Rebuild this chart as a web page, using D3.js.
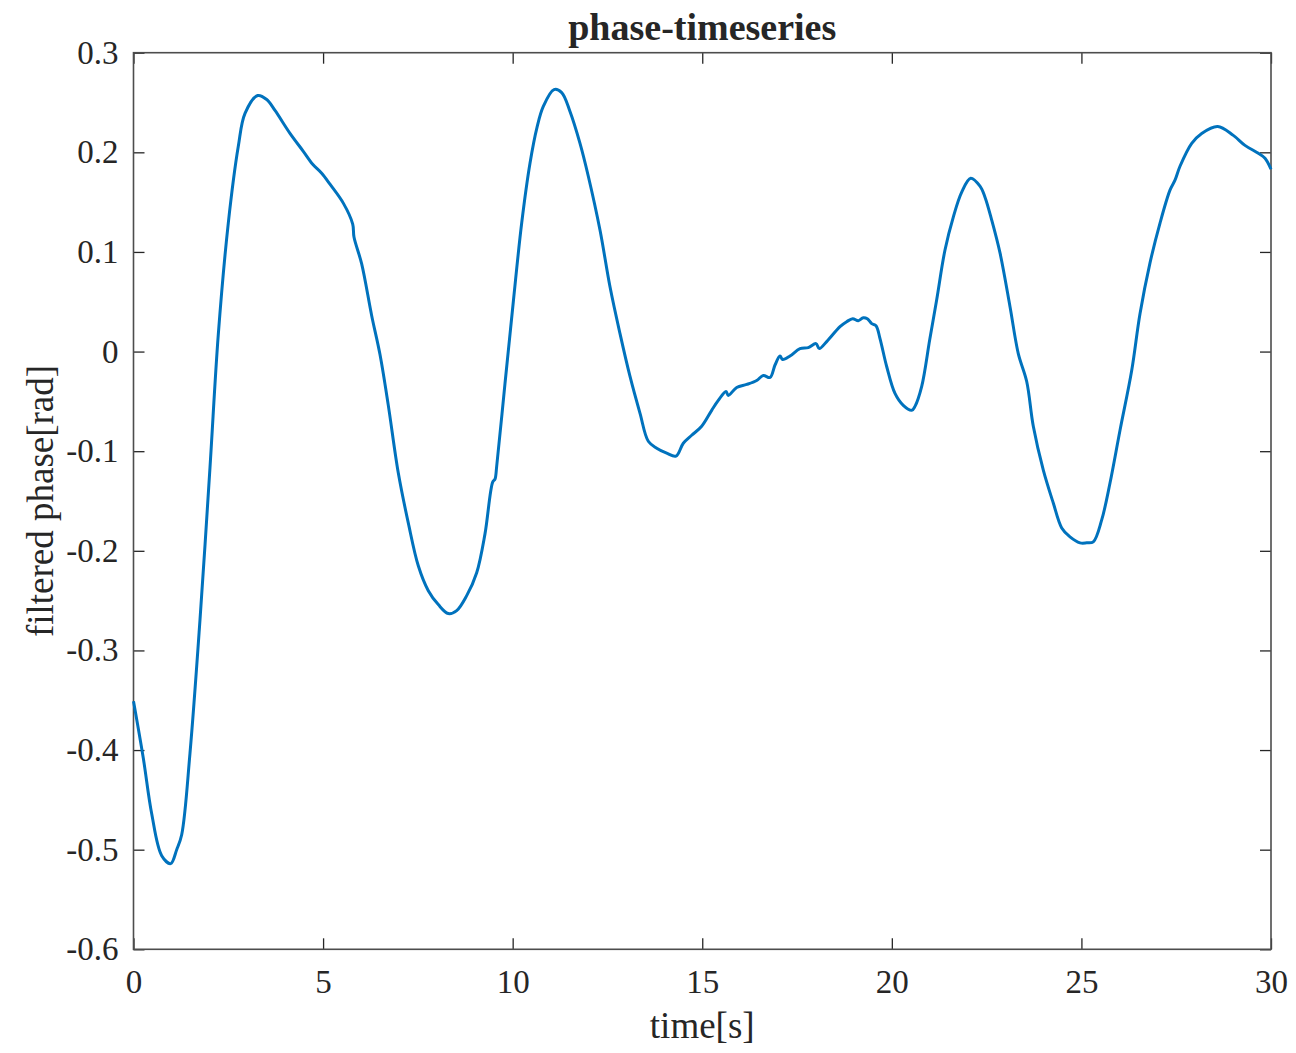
<!DOCTYPE html>
<html>
<head>
<meta charset="utf-8">
<script src="https://cdn.jsdelivr.net/npm/d3@7"></script>
<style>
  body { margin: 0; background: #fff; }
  svg { display: block; }
  text { font-family: "Liberation Serif", "Times New Roman", serif; fill: #262626; }
</style>
</head>
<body>
<svg id="chart" width="1296" height="1053"></svg>
<script>
// time samples [s]
const timeS = [
  0, 0.258, 0.48, 0.744, 0.981, 1.139, 1.271, 1.49, 1.754, 2.018, 2.236, 2.5, 2.764, 2.941,
  3.276, 3.513, 3.732, 4.127, 4.478, 4.726, 4.963, 5.182, 5.533, 5.781, 5.815, 6.018, 6.282,
  6.501, 6.72, 6.984, 7.247, 7.511, 7.775, 8.039, 8.302, 8.524, 8.788, 9.051, 9.27, 9.473,
  9.534, 9.579, 9.798, 10.017, 10.238, 10.457, 10.642, 10.808, 11.09, 11.293, 11.512, 11.776,
  11.995, 12.303, 12.567, 12.831, 13.095, 13.359, 13.577, 13.799, 14.062, 14.307, 14.5, 14.721,
  14.985, 15.249, 15.423, 15.626, 15.687, 15.908, 16.172, 16.436, 16.61, 16.787, 16.919, 17.051,
  17.121, 17.314, 17.578, 17.797, 18.0, 18.087, 18.282, 18.633, 18.809, 18.968, 19.115, 19.247,
  19.353, 19.469, 19.582, 19.688, 19.864, 20.083, 20.302, 20.524, 20.611, 20.788, 21.0, 21.183,
  21.402, 21.621, 21.843, 22.08, 22.325, 22.457, 22.634, 22.853, 23.117, 23.335, 23.557, 23.731,
  23.995, 24.258, 24.48, 24.699, 24.963, 25.139, 25.313, 25.535, 25.754, 26.018, 26.326, 26.545,
  26.809, 27.073, 27.336, 27.468, 27.6, 27.909, 28.172, 28.594, 29.006, 29.314, 29.665, 29.842, 30
];

// filtered phase [rad]
const phaseRad = [
  -0.351, -0.408, -0.464, -0.506, -0.514, -0.500, -0.485, -0.403, -0.269, -0.116, 0.017, 0.129,
  0.206, 0.239, 0.257, 0.253, 0.242, 0.219, 0.201, 0.188, 0.179, 0.168, 0.149, 0.128, 0.115,
  0.088, 0.036, -0.003, -0.054, -0.122, -0.172, -0.215, -0.240, -0.254, -0.263, -0.260, -0.245,
  -0.222, -0.183, -0.131, -0.128, -0.115, -0.032, 0.050, 0.129, 0.189, 0.225, 0.246, 0.263,
  0.260, 0.241, 0.209, 0.176, 0.122, 0.065, 0.018, -0.025, -0.062, -0.090, -0.097, -0.102,
  -0.105, -0.092, -0.084, -0.075, -0.059, -0.049, -0.040, -0.044, -0.036, -0.033, -0.029,
  -0.024, -0.026, -0.0135, -0.0045, -0.008, -0.0045, 0.003, 0.004, 0.008, 0.003, 0.010, 0.025,
  0.030, 0.033, 0.031, 0.034, 0.033, 0.028, 0.026, 0.013, -0.015, -0.042, -0.054, -0.059,
  -0.055, -0.035, 0.012, 0.052, 0.102, 0.135, 0.160, 0.174, 0.166, 0.155, 0.132, 0.099, 0.045,
  -0.002, -0.030, -0.075, -0.119, -0.152, -0.177, -0.186, -0.192, -0.192, -0.191, -0.169,
  -0.132, -0.079, -0.019, 0.038, 0.089, 0.129, 0.162, 0.172, 0.186, 0.209, 0.219, 0.226,
  0.217, 0.207, 0.199, 0.194, 0.183
];

const xTicks = [0, 5, 10, 15, 20, 25, 30];
const yTicks = [0.3, 0.2, 0.1, 0, -0.1, -0.2, -0.3, -0.4, -0.5, -0.6];
const yTickLabels = ['0.3', '0.2', '0.1', '0', '-0.1', '-0.2', '-0.3', '-0.4', '-0.5', '-0.6'];

const titleText = 'phase-timeseries';
const xLabel = 'time[s]';
const yLabel = 'filtered phase[rad]';

const margin = { top: 52.7, right: 25, bottom: 103.7, left: 133.5 };
const width = 1296, height = 1053;
const innerW = width - margin.left - margin.right;
const innerH = height - margin.top - margin.bottom;
const tickLen = 11;

const svg = d3.select('#chart');
const g = svg.append('g').attr('transform', `translate(${margin.left},${margin.top})`);

const x = d3.scaleLinear().domain([0, 30]).range([0, innerW]);
const y = d3.scaleLinear().domain([-0.6, 0.3]).range([innerH, 0]);

const styleAxis = sel => {
    sel.select('.domain').remove();
    sel.selectAll('.tick line').attr('stroke', '#262626').attr('stroke-width', 1.3);
    sel.selectAll('.tick text').style('font-size', '33px').attr('fill', '#262626');
};

// bottom axis with labels
g.append('g')
    .attr('transform', `translate(0,${innerH})`)
    .call(d3.axisBottom(x).tickValues(xTicks).tickFormat(d => String(d))
        .tickSizeInner(-tickLen).tickSizeOuter(0).tickPadding(20))
    .call(styleAxis);

// top axis, ticks only
g.append('g')
    .call(d3.axisTop(x).tickValues(xTicks).tickFormat('')
        .tickSizeInner(-tickLen).tickSizeOuter(0))
    .call(styleAxis);

// left axis with labels
g.append('g')
    .call(d3.axisLeft(y).tickValues(yTicks).tickFormat((d, i) => yTickLabels[i])
        .tickSizeInner(-tickLen).tickSizeOuter(0).tickPadding(15))
    .call(styleAxis);

// right axis, ticks only
g.append('g')
    .attr('transform', `translate(${innerW},0)`)
    .call(d3.axisRight(y).tickValues(yTicks).tickFormat('')
        .tickSizeInner(-tickLen).tickSizeOuter(0))
    .call(styleAxis);

// box
g.append('rect')
    .attr('width', innerW)
    .attr('height', innerH)
    .attr('fill', 'none')
    .attr('stroke', '#4d4d4d')
    .attr('stroke-width', 1.6);

const line = d3.line()
    .x((d, i) => x(timeS[i]))
    .y(d => y(d))
    .curve(d3.curveCatmullRom.alpha(0.5));

g.append('path')
    .datum(phaseRad)
    .attr('fill', 'none')
    .attr('stroke', '#0072BD')
    .attr('stroke-width', 3)
    .attr('stroke-linejoin', 'round')
    .attr('d', line);

svg.append('text')
    .attr('x', margin.left + innerW / 2)
    .attr('y', 40)
    .attr('text-anchor', 'middle')
    .style('font-size', '38px')
    .style('font-weight', 'bold')
    .attr('fill', '#000')
    .text(titleText);

svg.append('text')
    .attr('x', margin.left + innerW / 2)
    .attr('y', 1038)
    .attr('text-anchor', 'middle')
    .style('font-size', '37px')
    .text(xLabel);

svg.append('text')
    .attr('transform', `translate(53,${margin.top + innerH / 2}) rotate(-90)`)
    .attr('text-anchor', 'middle')
    .style('font-size', '37px')
    .text(yLabel);
</script>
</body>
</html>
